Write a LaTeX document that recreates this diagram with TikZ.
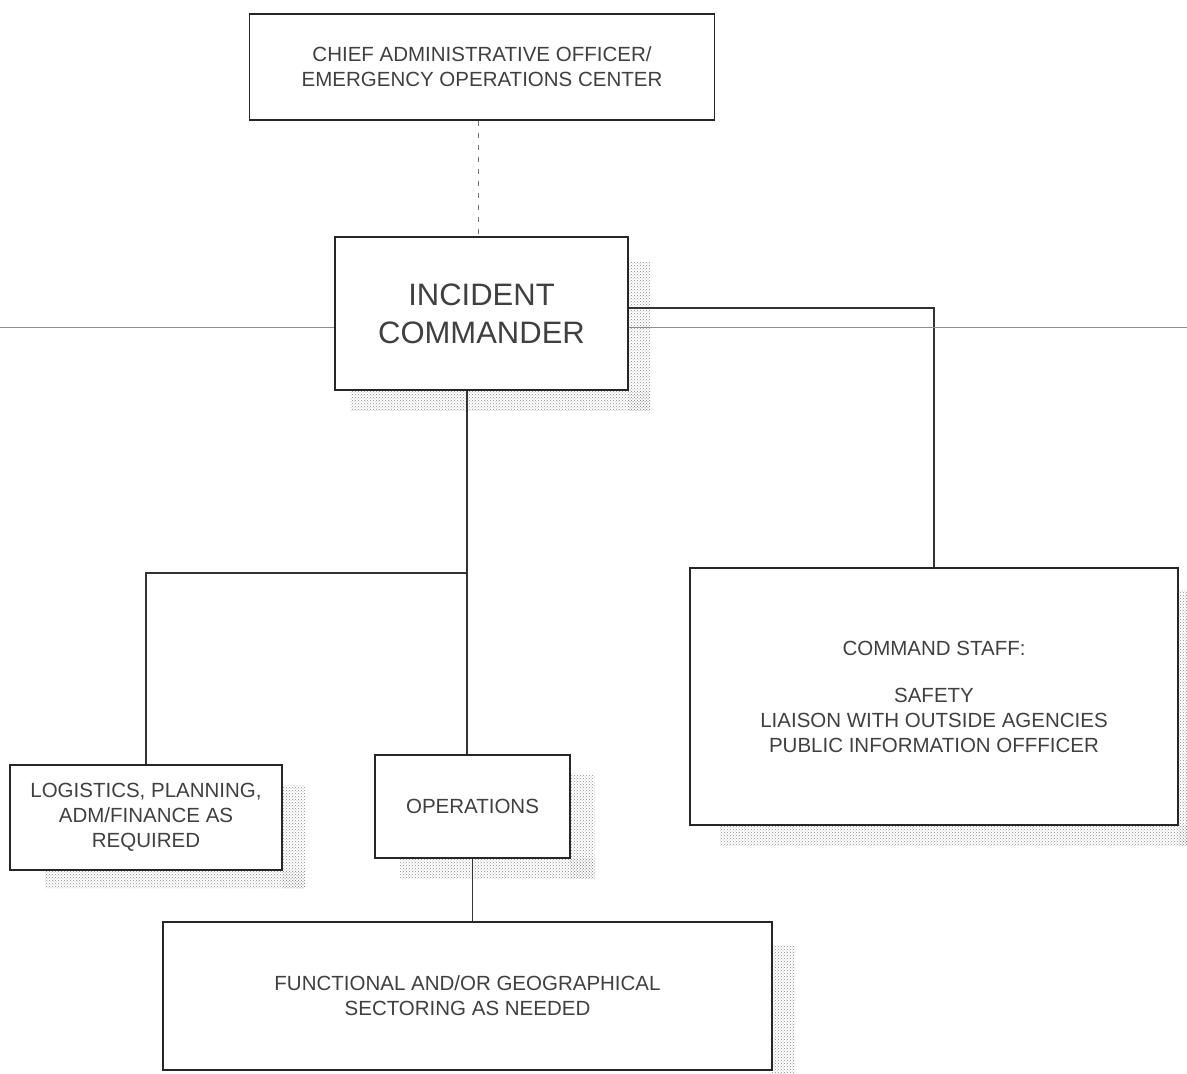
\documentclass[tikz,border=0pt]{standalone}
\usepackage{fontspec}
\setmainfont{Liberation Sans}
\usetikzlibrary{patterns,calc}
\begin{document}
\begin{tikzpicture}[x=1pt,y=-1pt,
  box/.style={draw=black!85,line width=1.4pt,fill=white,align=center,inner sep=0pt,
    text=black!75,font=\fontsize{20.5}{25}\selectfont},
  link/.style={draw=black!80,line width=1.1pt},
  dlink/.style={draw=black!55,line width=0.9pt,dash pattern=on 5pt off 7pt},
  scanline/.style={draw=black!45,line width=0.9pt},
  shade/.style={pattern=crosshatch dots,pattern color=black!45}]
\useasboundingbox (0,0) rectangle (1187,1074);
% shadows (scan speckle)
\fill[shade] (628,262) rectangle (650,410);
\fill[shade] (350,390) rectangle (650,410);
\fill[shade] (282,785) rectangle (305,888);
\fill[shade] (45,870) rectangle (305,888);
\fill[shade] (570,775) rectangle (595,878);
\fill[shade] (400,858) rectangle (595,878);
\fill[shade] (772,945) rectangle (795,1074);
\fill[shade] (720,825) rectangle (1187,845);
\fill[shade] (1178,590) rectangle (1187,845);
% nodes
\node[box,minimum width=465,minimum height=106] (top) at (482,67)
  {CHIEF ADMINISTRATIVE OFFICER/\\EMERGENCY OPERATIONS CENTER};
\node[box,minimum width=293,minimum height=153,font=\fontsize{31}{38}\selectfont] (ic) at (481.5,313.5)
  {INCIDENT\\COMMANDER};
\node[box,minimum width=272,minimum height=105] (log) at (146,817.5)
  {LOGISTICS, PLANNING,\\ADM/FINANCE AS\\REQUIRED};
\node[box,minimum width=195,minimum height=103] (ops) at (472.5,806.5) {OPERATIONS};
\node[box,minimum width=609,minimum height=148] (func) at (467.5,996)
  {FUNCTIONAL AND/OR GEOGRAPHICAL\\SECTORING AS NEEDED};
\node[box,minimum width=488,minimum height=257] (cs) at (934,696.5)
  {COMMAND STAFF:\\[22pt]SAFETY\\LIAISON WITH OUTSIDE AGENCIES\\PUBLIC INFORMATION OFFFICER};
% coordinates
\coordinate (d) at (478,0);
\coordinate (bus) at (467,573);
\coordinate (rt) at (0,308);
\coordinate (L) at (0,327);
\coordinate (R) at (1187,327);
% connectors
\draw[dlink] (top.south -| d) -- (ic.north -| d);
\draw[link] (ic.east |- rt) -| (cs.north);
\draw[link] (bus |- ic.south) -- (bus);
\draw[link] (bus) -| (log.north);
\draw[link] (bus) -- (bus |- ops.north);
\draw[link] (ops.south) -- (ops.south |- func.north);
% scan line
\draw[scanline] (L) -- (ic.west |- L);
\draw[scanline] (ic.east |- R) -- (R);
\end{tikzpicture}
\end{document}
